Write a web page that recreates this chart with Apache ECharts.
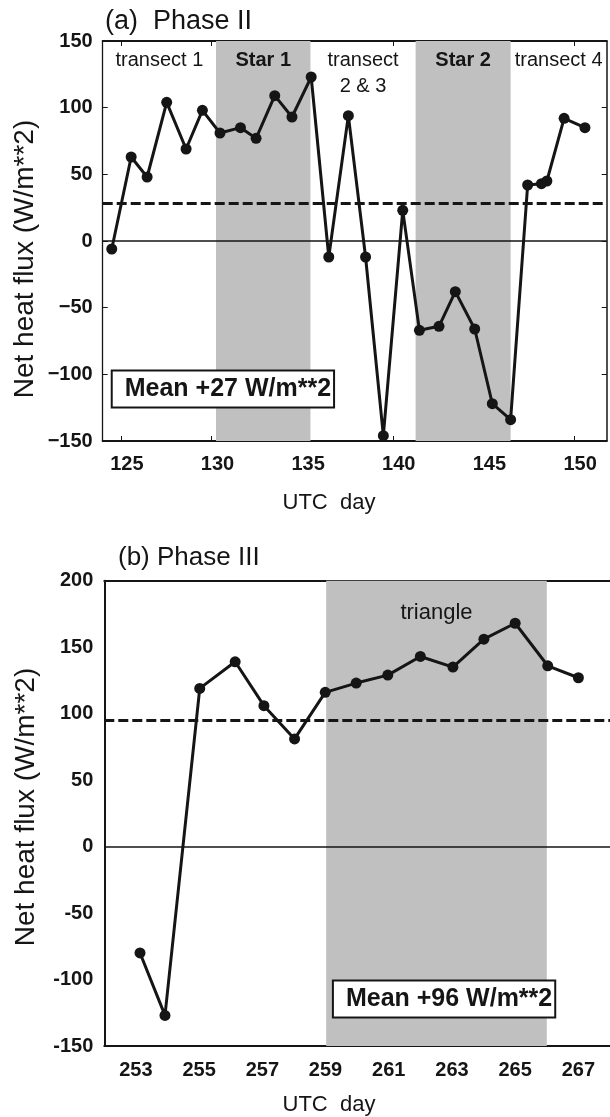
<!DOCTYPE html>
<html><head><meta charset="utf-8">
<script src="https://cdn.jsdelivr.net/npm/echarts@6/dist/echarts.min.js"></script>
<style>html,body{margin:0;padding:0;background:#fff}#c{width:610px;height:1117px}</style>
</head><body><div id="c"></div>
<script>
// Panel (a) Phase II
const daysA = [124.5,125.57,126.45,127.53,128.6,129.5,130.47,131.6,132.46,133.49,134.44,135.5,136.47,137.55,138.5,139.48,140.55,141.47,142.55,143.45,144.52,145.49,146.5,147.44,148.2,148.5,149.45,150.6];
const fluxA = [-6,63,48,104,69,98,81,85,77,109,93,123,-12,94,-12,-146,23,-67,-64,-38,-66,-122,-134,42,43,45,92,85];
const meanA = 28;
const ticksA = [125,130,135,140,145,150];
const regionsA = [
  {name:'transect 1', from:124, to:130.25, shaded:false},
  {name:'Star 1', from:130.25, to:135.46, shaded:true},
  {name:'transect\n2 & 3', from:135.46, to:141.26, shaded:false},
  {name:'Star 2', from:141.26, to:146.5, shaded:true},
  {name:'transect 4', from:146.5, to:151.8, shaded:false}
];
const meanTextA = 'Mean +27 W/m**2';
const meanPosA = [130.63, -111];

// Panel (b) Phase III
const daysB = [253.13,253.92,255.02,256.14,257.05,258.02,258.99,259.97,260.97,262.0,263.03,264.01,265.0,266.03,267.0];
const fluxB = [-80,-127,119,139,106,81,116,123,129,143,135,156,168,136,127];
const meanB = 95;
const ticksB = [253,255,257,259,261,263,265,267];
const regionsB = [{name:'triangle', from:259.02, to:266.0, shaded:true}];
const meanTextB = 'Mean +96 W/m**2';
const meanPosB = [262.75, -114.7];

const FONT = 'Liberation Sans, Arial, Helvetica, sans-serif';
const BLACK = '#151515';
const GRAY = '#c0c0c0';

const chart = echarts.init(document.getElementById('c'), null, {renderer:'canvas'});

function areaData(regions, bold){
  return regions.map(r => [
    {xAxis:r.from, name:r.name,
     itemStyle:{color: r.shaded ? GRAY : 'rgba(0,0,0,0)'},
     label:{fontWeight: (bold && r.shaded) ? 'bold' : 'normal'}},
    {xAxis:r.to}
  ]);
}

const tickLabel = {fontFamily:FONT, fontSize:20, fontWeight:'bold', color:BLACK};

chart.setOption({
  animation:false,
  grid:[
    {left:102.7, top:41, width:504, height:400},
    {left:104.3, top:580.7, width:528, height:465.3}
  ],
  xAxis:[
    {gridIndex:0, type:'value', position:'bottom', min:124, max:151.8,
     axisLine:{onZero:false, lineStyle:{color:BLACK, width:2}},
     axisTick:{inside:true, length:5, customValues:ticksA, lineStyle:{color:BLACK, width:1}},
     axisLabel:Object.assign({customValues:ticksA, margin:13, padding:[0,0,0,12]}, tickLabel),
     splitLine:{show:false}},
    {gridIndex:0, type:'value', position:'top', min:124, max:151.8,
     axisLine:{onZero:false, lineStyle:{color:BLACK, width:2}},
     axisTick:{inside:true, length:5, customValues:ticksA, lineStyle:{color:BLACK, width:1}},
     axisLabel:{show:false}, splitLine:{show:false}},
    {gridIndex:1, type:'value', position:'bottom', min:252, max:268,
     axisLine:{onZero:false, lineStyle:{color:BLACK, width:2}},
     axisTick:{show:false},
     axisLabel:Object.assign({customValues:ticksB, margin:14}, tickLabel),
     splitLine:{show:false}},
    {gridIndex:1, type:'value', position:'top', min:252, max:268,
     axisLine:{onZero:false, lineStyle:{color:BLACK, width:2}},
     axisTick:{show:false}, axisLabel:{show:false}, splitLine:{show:false}}
  ],
  yAxis:[
    {gridIndex:0, type:'value', position:'left', min:-150, max:150, interval:50,
     axisLine:{onZero:false, show:true, lineStyle:{color:BLACK, width:1.3}},
     axisTick:{show:true, inside:true, length:5, lineStyle:{color:BLACK, width:1}},
     axisLabel:Object.assign({margin:10, formatter:v=>String(v).replace('-','\u2212')}, tickLabel),
     splitLine:{show:false}},
    {gridIndex:0, type:'value', position:'right', min:-150, max:150, interval:50,
     axisLine:{onZero:false, show:true, lineStyle:{color:BLACK, width:1.5}},
     axisTick:{show:true, inside:true, length:5, lineStyle:{color:BLACK, width:1}},
     axisLabel:{show:false}, splitLine:{show:false}},
    {gridIndex:1, type:'value', position:'left', min:-150, max:200, interval:50,
     axisLine:{onZero:false, show:true, lineStyle:{color:BLACK, width:2}},
     axisTick:{show:false},
     axisLabel:Object.assign({margin:11, padding:[0,0,15,0]}, tickLabel),
     splitLine:{show:false}}
  ],
  series:[
    {type:'line', xAxisIndex:0, yAxisIndex:0, data:[], z:1, silent:true,
     markArea:{silent:true, data:areaData(regionsA, true),
       label:{show:true, position:'insideTop', distance:6, formatter:p=>p.name,
              fontFamily:FONT, fontSize:20, lineHeight:26, color:BLACK}}},
    {type:'line', xAxisIndex:0, yAxisIndex:0, z:3,
     data:daysA.map((d,i)=>[d, fluxA[i]]),
     symbol:'circle', symbolSize:11, showSymbol:true,
     lineStyle:{color:BLACK, width:3}, itemStyle:{color:BLACK},
     markLine:{silent:true, symbol:['none','none'], label:{show:false},
       data:[
         {yAxis:0, lineStyle:{color:BLACK, width:1.5, type:'solid'}},
         {yAxis:meanA, lineStyle:{color:BLACK, width:3, type:[10,4]}}
       ]},
     markPoint:{silent:true, symbol:'rect', symbolSize:1, itemStyle:{color:'rgba(0,0,0,0)'},
       data:[{coord:meanPosA, value:meanTextA}],
       label:{show:true, position:'inside', formatter:p=>p.value,
         fontFamily:FONT, fontSize:25, fontWeight:'bold', color:BLACK, lineHeight:29,
         backgroundColor:'#fff', borderColor:BLACK, borderWidth:2, padding:[3,2,3,12]}}},
    {type:'line', xAxisIndex:2, yAxisIndex:2, data:[], z:1, silent:true,
     markArea:{silent:true, data:areaData(regionsB, false),
       label:{show:true, position:'insideTop', distance:19, formatter:p=>p.name,
              fontFamily:FONT, fontSize:22, lineHeight:26, color:BLACK}}},
    {type:'line', xAxisIndex:2, yAxisIndex:2, z:3,
     data:daysB.map((d,i)=>[d, fluxB[i]]),
     symbol:'circle', symbolSize:11, showSymbol:true,
     lineStyle:{color:BLACK, width:3}, itemStyle:{color:BLACK},
     markLine:{silent:true, symbol:['none','none'], label:{show:false},
       data:[
         {yAxis:0, lineStyle:{color:BLACK, width:1.5, type:'solid'}},
         {yAxis:meanB, lineStyle:{color:BLACK, width:3, type:[10,4]}}
       ]},
     markPoint:{silent:true, symbol:'rect', symbolSize:1, itemStyle:{color:'rgba(0,0,0,0)'},
       data:[{coord:meanPosB, value:meanTextB}],
       label:{show:true, position:'inside', formatter:p=>p.value,
         fontFamily:FONT, fontSize:25, fontWeight:'bold', color:BLACK, lineHeight:29,
         backgroundColor:'#fff', borderColor:BLACK, borderWidth:2, padding:[3,2,3,12]}}}
  ],
  graphic:[
    {type:'text', left:105, top:8, style:{text:'(a)  Phase II', font:'27px '+FONT, fill:BLACK}},
    {type:'text', left:118, top:545, style:{text:'(b) Phase III', font:'26px '+FONT, fill:BLACK}},
    {type:'text', x:329, y:503, style:{text:'UTC  day', font:'22px '+FONT, fill:BLACK, align:'center', verticalAlign:'middle'}},
    {type:'text', x:329, y:1105, style:{text:'UTC  day', font:'22px '+FONT, fill:BLACK, align:'center', verticalAlign:'middle'}},
    {type:'text', x:25, y:259, rotation:Math.PI/2, style:{text:'Net heat flux (W/m**2)', font:'28px '+FONT, fill:BLACK, align:'center', verticalAlign:'middle'}},
    {type:'text', x:26, y:807, rotation:Math.PI/2, style:{text:'Net heat flux (W/m**2)', font:'28px '+FONT, fill:BLACK, align:'center', verticalAlign:'middle'}}
  ]
});
</script>
</body></html>
